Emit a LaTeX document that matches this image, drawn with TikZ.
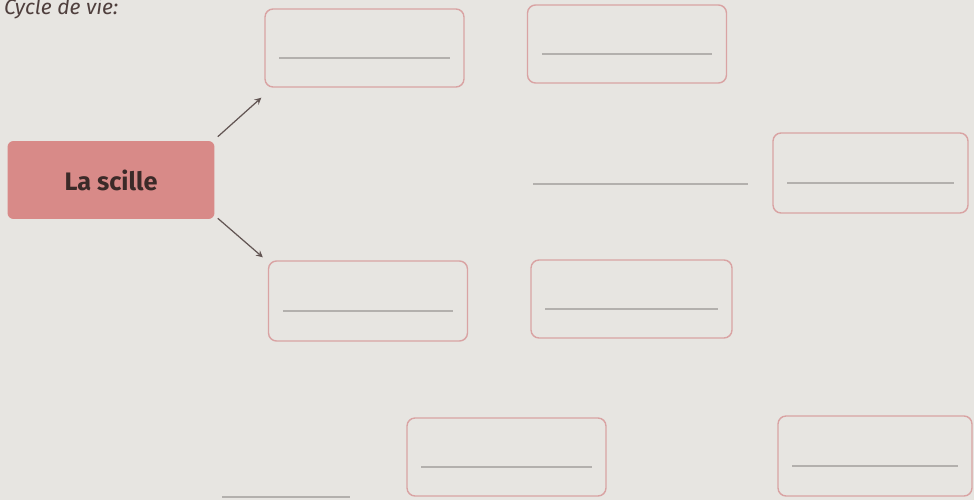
\documentclass[tikz,border=0pt]{standalone}
\usepackage{fontspec}
\setmainfont{Fira Sans}
\definecolor{paper}{HTML}{E7E5E1}
\definecolor{rose}{HTML}{D9A3A3}
\definecolor{rosefill}{HTML}{D88A88}
\definecolor{ruled}{HTML}{B3B0AD}
\definecolor{ink}{HTML}{3B2A28}
\begin{document}
\begin{tikzpicture}[x=0.02cm,y=-0.02cm,
  blank/.style={draw=rose,line width=0.8pt,rounded corners=0.16cm,minimum width=3.98cm,minimum height=1.56cm},
  main/.style={fill=rosefill,rounded corners=0.12cm,minimum width=4.14cm,minimum height=1.56cm,font=\bfseries\Large,text=ink},
  rule/.style={draw=ruled,line width=0.6pt},
  arr/.style={draw=ink!80,line width=0.7pt,-stealth}]
\useasboundingbox[fill=paper] (0,0) rectangle (974,500);
\node[anchor=base west,font=\itshape\large,text=ink!90] (title) at (-2,15) {Cycle de vie:};
\node[main] (scille) at (111,180) {La scille};
% boxes to fill in
\node[blank] (A) at (364.5,48) {};
\node[blank] (B) at (627,44) {};
\node[blank,minimum width=3.9cm,minimum height=1.6cm] (C) at (870.5,173) {};
\node[blank,minimum height=1.6cm] (D) at (368,301) {};
\node[blank,minimum width=4.02cm] (E) at (631.5,299) {};
\node[blank] (F) at (506.5,457) {};
\node[blank,minimum width=3.88cm,minimum height=1.6cm] (G) at (875,456) {};
\foreach \b in {A,B,C,D,E,F,G}
  \draw[rule] ([xshift=0.3cm,yshift=-0.2cm]\b.west) -- ([xshift=-0.3cm,yshift=-0.2cm]\b.east);
% lines without a box
\coordinate (m1) at (533,184);
\coordinate (m2) at (748,184);
\draw[rule] (m1) -- (m2);
\coordinate (b1) at (222,497);
\coordinate (b2) at (350,497);
\draw[rule] (b1) -- (b2);
\draw[arr] ([shift={(3,-4)}]scille.north east) -- ([shift={(-3,10)}]A.south west);
\draw[arr] ([shift={(3,-1)}]scille.south east) -- ([shift={(-5,-3)}]D.north west);
\end{tikzpicture}
\end{document}
